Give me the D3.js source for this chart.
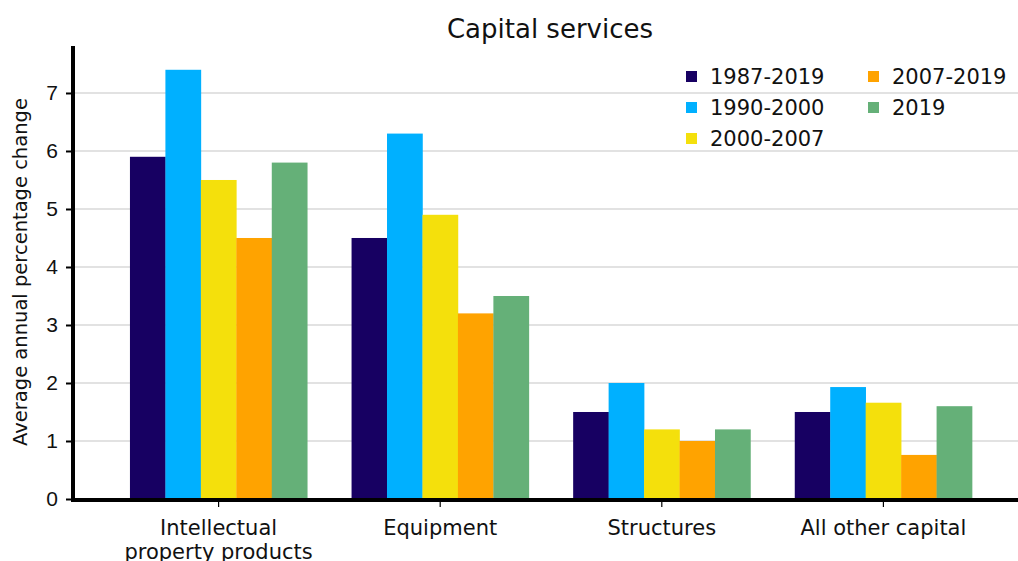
<!DOCTYPE html>
<html>
<head>
<meta charset="utf-8">
<script src="https://cdn.jsdelivr.net/npm/d3@7"></script>
<style>
  body { margin: 0; background: #fff; }
  svg { font-family: "DejaVu Sans", sans-serif; }
</style>
</head>
<body>
<div class="d3-chart"></div>
<script>
const categories = ["Intellectual\nproperty products", "Equipment", "Structures", "All other capital"];
const series = ["1987-2019", "1990-2000", "2000-2007", "2007-2019", "2019"];
const colors = ["#170062", "#00b0ff", "#f4e00c", "#ffa300", "#65b078"];
const values = [
  [5.9, 7.4, 5.5, 4.5, 5.8],
  [4.5, 6.3, 4.9, 3.2, 3.5],
  [1.5, 2.0, 1.2, 1.0, 1.2],
  [1.5, 1.93, 1.66, 0.76, 1.6]
];
const yTicks = [0, 1, 2, 3, 4, 5, 6, 7];

const width = 1018, height = 561;
const margin = {top: 46, left: 73, bottom: 62};
const plotRight = 1029;

const svg = d3.select(".d3-chart")
  .append("svg")
  .attr("width", width)
  .attr("height", height);

const x = d3.scaleBand()
  .domain(categories)
  .range([margin.left, plotRight])
  .paddingInner(0.2)
  .paddingOuter(0.257);

const inner = d3.scaleBand()
  .domain(series)
  .range([0, x.bandwidth()]);

const y = d3.scaleLinear()
  .domain([0, 7.81])
  .range([height - margin.bottom, margin.top]);

// gridlines
svg.append("g")
  .selectAll("line")
  .data(yTicks.slice(1))
  .join("line")
  .attr("x1", margin.left)
  .attr("x2", width)
  .attr("y1", d => y(d))
  .attr("y2", d => y(d))
  .attr("stroke", "#d9d9d9")
  .attr("stroke-width", 1.5);

// bars
const groups = svg.append("g")
  .selectAll("g")
  .data(categories)
  .join("g")
  .attr("transform", d => `translate(${x(d)},0)`);

groups.selectAll("rect")
  .data((d, i) => values[i].map((v, j) => ({s: series[j], v, c: colors[j]})))
  .join("rect")
  .attr("x", d => inner(d.s))
  .attr("y", d => y(d.v))
  .attr("width", inner.bandwidth() + 0.3)
  .attr("height", d => y(0) - y(d.v))
  .attr("fill", d => d.c);

// y axis
const yAxis = svg.append("g")
  .attr("transform", `translate(${margin.left},0)`)
  .call(d3.axisLeft(y).tickValues(yTicks).tickSize(7).tickPadding(8));
yAxis.select(".domain").remove();
yAxis.selectAll(".tick line").attr("stroke-width", 2);
yAxis.selectAll(".tick text").attr("font-size", 21).attr("fill", "#111");
svg.append("line")
  .attr("x1", margin.left).attr("x2", margin.left)
  .attr("y1", margin.top).attr("y2", y(0) + 2)
  .attr("stroke", "#000").attr("stroke-width", 4);

// x axis
const xAxis = svg.append("g")
  .attr("transform", `translate(0,${y(0)})`)
  .call(d3.axisBottom(x).tickSize(8).tickFormat(""));
xAxis.select(".domain").remove();
xAxis.selectAll(".tick line").attr("stroke-width", 1.2);
svg.append("line")
  .attr("x1", margin.left - 2).attr("x2", width)
  .attr("y1", y(0) + 1).attr("y2", y(0) + 1)
  .attr("stroke", "#000").attr("stroke-width", 4);

svg.append("g")
  .selectAll("text")
  .data(categories)
  .join("text")
  .attr("text-anchor", "middle")
  .attr("font-size", 21)
  .attr("fill", "#111")
  .each(function(d) {
    const t = d3.select(this);
    d.split("\n").forEach((line, i) => {
      t.append("tspan")
        .attr("x", x(d) + x.bandwidth() / 2)
        .attr("y", 535 + i * 24)
        .text(line);
    });
  });

// y label
svg.append("text")
  .attr("transform", `translate(27,272) rotate(-90)`)
  .attr("text-anchor", "middle")
  .attr("font-size", 19.5)
  .attr("fill", "#111")
  .text("Average annual percentage change");

// title
svg.append("text")
  .attr("x", 550)
  .attr("y", 38)
  .attr("text-anchor", "middle")
  .attr("font-size", 26)
  .attr("fill", "#111")
  .text("Capital services");

// legend
const legend = svg.append("g")
  .selectAll("g")
  .data(series)
  .join("g")
  .attr("transform", (d, i) => `translate(${i < 3 ? 686 : 868},${76 + (i % 3) * 31})`);
legend.append("rect")
  .attr("x", 0).attr("y", -5)
  .attr("width", 11).attr("height", 11)
  .attr("fill", (d, i) => colors[i]);
legend.append("text")
  .attr("x", 24).attr("y", 8)
  .attr("font-size", 21)
  .attr("fill", "#111")
  .text(d => d);
</script>
</body>
</html>
